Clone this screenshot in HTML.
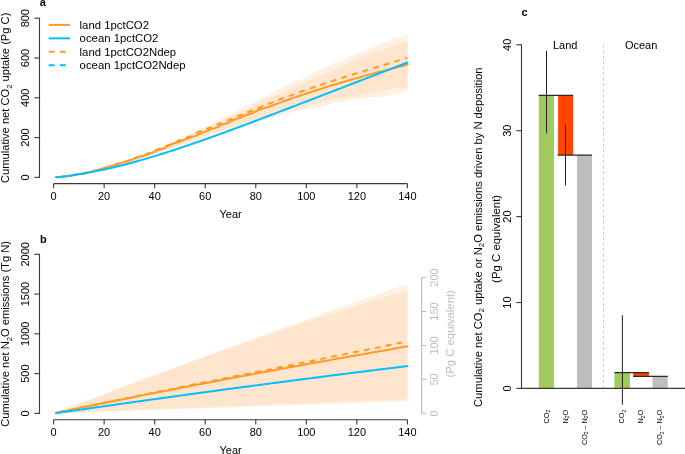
<!DOCTYPE html>
<html><head><meta charset='utf-8'><style>html,body{margin:0;padding:0;background:#fff;}svg{display:block;}</style></head>
<body><svg width='685' height='454' viewBox='0 0 685 454' font-family='"Liberation Sans", sans-serif' style='will-change:transform'>
<rect width='685' height='454' fill='#fff'/>
<polygon points='56.13,177.27 58.65,177.06 61.18,176.85 63.71,176.61 66.24,176.27 68.76,175.82 71.29,175.4 73.82,175.05 76.34,174.71 78.87,174.16 81.4,173.59 83.93,173.26 86.45,172.78 88.98,172.14 91.51,171.63 94.03,171.1 96.56,170.98 99.09,170.35 101.62,170.01 104.14,168.98 106.67,168.29 109.2,167.06 111.72,166.2 114.25,165.13 116.78,165.11 119.31,164.48 121.83,163.59 124.36,161.98 126.89,161.38 129.41,160.6 131.94,159.98 134.47,158.85 137,157.46 139.52,156.44 142.05,155.24 144.58,154.29 147.1,153.21 149.63,152.21 152.16,151.38 154.69,150.14 157.21,149.39 159.74,148.32 162.27,146.86 164.79,145.84 167.32,144.51 169.85,143.73 172.38,142.33 174.9,140.86 177.43,139.52 179.96,138.51 182.48,137.88 185.01,136.75 187.54,135.27 190.07,133.89 192.59,132.87 195.12,131.41 197.65,129.97 200.17,128.91 202.7,127.81 205.23,127.1 207.76,125.63 210.28,124.77 212.81,123.54 215.34,122.37 217.86,120.52 220.39,118.77 222.92,117.81 225.45,117.01 227.97,115.87 230.5,114.78 233.03,113.41 235.55,112.33 238.08,110.13 240.61,108.52 243.14,107.3 245.66,106.47 248.19,105.44 250.72,103.63 253.24,102.36 255.77,101.09 258.3,100.13 260.83,98.76 263.35,97.45 265.88,96.58 268.41,95.27 270.93,94.06 273.46,92.15 275.99,90.69 278.52,89.3 281.04,88.18 283.57,87.19 286.1,85.63 288.62,84.57 291.15,83.06 293.68,82.48 296.21,81.14 298.73,80.55 301.26,79.53 303.79,78.49 306.31,77.05 308.84,75.22 311.37,73.29 313.9,72.08 316.42,71.11 318.95,70.5 321.48,68.95 324,67.65 326.53,66.6 329.06,65.39 331.59,64.05 334.11,63.14 336.64,62.23 339.17,61.24 341.69,60.14 344.22,58.94 346.75,58.09 349.28,56.44 351.8,55.38 354.33,54.04 356.86,53.43 359.38,52.47 361.91,52.02 364.44,51.14 366.97,49.99 369.49,49.02 372.02,47.47 374.55,47.08 377.07,45.29 379.6,44.8 382.13,43.14 384.66,42.37 387.18,41.64 389.71,40.59 392.24,39.31 394.76,38.01 397.29,37.55 399.82,37.13 402.35,36.53 404.87,35.3 407.4,34.57 407.4,92 404.87,92.5 402.35,92.38 399.82,92.89 397.29,93.52 394.76,94.22 392.24,94.81 389.71,95.19 387.18,95.94 384.66,96.51 382.13,96.85 379.6,97.08 377.07,97.23 374.55,96.99 372.02,97.01 369.49,97.18 366.97,97.67 364.44,98.57 361.91,99.16 359.38,99.31 356.86,99.28 354.33,99.03 351.8,100.11 349.28,100.16 346.75,101.48 344.22,101.85 341.69,102.36 339.17,102.28 336.64,102.04 334.11,103.13 331.59,103.73 329.06,104.89 326.53,104.79 324,105.46 321.48,105.61 318.95,106.42 316.42,107.2 313.9,107.98 311.37,108.23 308.84,108.42 306.31,108.71 303.79,109.05 301.26,109.46 298.73,110.36 296.21,111.58 293.68,112.32 291.15,112.87 288.62,113.12 286.1,113.7 283.57,114.54 281.04,115.24 278.52,116.19 275.99,117.1 273.46,117.62 270.93,117.51 268.41,118.05 265.88,119.22 263.35,120.44 260.83,120.71 258.3,121.29 255.77,122.12 253.24,122.9 250.72,123.83 248.19,124.44 245.66,125.68 243.14,126.29 240.61,126.87 238.08,127.34 235.55,128.14 233.03,128.85 230.5,129.36 227.97,130.25 225.45,131.38 222.92,132.43 220.39,133.56 217.86,134.67 215.34,135.2 212.81,135.47 210.28,136.17 207.76,137.47 205.23,138.45 202.7,138.91 200.17,139.58 197.65,140.58 195.12,142.11 192.59,142.66 190.07,143.25 187.54,143.56 185.01,144.42 182.48,145.53 179.96,146.31 177.43,147.13 174.9,147.97 172.38,148.71 169.85,149.4 167.32,149.99 164.79,150.73 162.27,151.67 159.74,152.56 157.21,153.72 154.69,154.82 152.16,155.26 149.63,155.8 147.1,156.48 144.58,157.01 142.05,157.86 139.52,158.74 137,159.9 134.47,161.21 131.94,161.99 129.41,162.61 126.89,162.55 124.36,162.93 121.83,163.94 119.31,165.45 116.78,166.47 114.25,166.84 111.72,167.21 109.2,168.1 106.67,169.12 104.14,169.45 101.62,169.84 99.09,170.6 96.56,171.19 94.03,171.9 91.51,172.27 88.98,172.83 86.45,173.19 83.93,173.64 81.4,174.18 78.87,174.61 76.34,174.88 73.82,175.13 71.29,175.41 68.76,175.81 66.24,176.21 63.71,176.55 61.18,176.85 58.65,177.1 56.13,177.32' fill='#FEF1E3' stroke='none'/>
<polygon points='56.13,177.4 58.65,177.15 61.18,176.92 63.71,176.58 66.24,176.3 68.76,175.75 71.29,175.26 73.82,174.62 76.34,174.14 78.87,173.75 81.4,173.3 83.93,172.67 86.45,172.19 88.98,171.65 91.51,171.31 94.03,170.33 96.56,169.96 99.09,169.36 101.62,168.93 104.14,168.01 106.67,167.62 109.2,166.91 111.72,166.28 114.25,165.16 116.78,164.53 119.31,163.65 121.83,163.28 124.36,161.98 126.89,161.44 129.41,160.71 131.94,160.3 134.47,158.76 137,157.37 139.52,156 142.05,155.04 144.58,154.2 147.1,154.38 149.63,154.2 152.16,152.64 154.69,151.19 157.21,150.26 159.74,149.96 162.27,148.71 164.79,147.26 167.32,145.59 169.85,144.25 172.38,143.45 174.9,142.66 177.43,142.18 179.96,140.81 182.48,139.99 185.01,138.9 187.54,137.21 190.07,135.75 192.59,134.1 195.12,132.85 197.65,131.5 200.17,130.56 202.7,130.11 205.23,129.38 207.76,127.88 210.28,126.82 212.81,124.94 215.34,124.17 217.86,122.99 220.39,122.42 222.92,120.96 225.45,119.62 227.97,117.92 230.5,117.05 233.03,115.83 235.55,114.47 238.08,113.18 240.61,111.9 243.14,110.8 245.66,109.37 248.19,108.49 250.72,108.31 253.24,106.58 255.77,105.08 258.3,102.93 260.83,102.54 263.35,100.94 265.88,99.94 268.41,98.59 270.93,98.16 273.46,97 275.99,95.95 278.52,94.57 281.04,93.93 283.57,92.74 286.1,91.45 288.62,90.16 291.15,88.82 293.68,87.5 296.21,86.06 298.73,85.09 301.26,84.28 303.79,82.77 306.31,81.87 308.84,80.63 311.37,79.87 313.9,78.25 316.42,77.05 318.95,76.12 321.48,74.46 324,73.27 326.53,72.22 329.06,71.94 331.59,70.87 334.11,69.22 336.64,68.26 339.17,67.01 341.69,66.5 344.22,65.28 346.75,64.18 349.28,62.27 351.8,61.03 354.33,60.32 356.86,59.42 359.38,58.68 361.91,57.5 364.44,56.8 366.97,55.22 369.49,54.23 372.02,53.4 374.55,52.54 377.07,51.99 379.6,50.74 382.13,50.17 384.66,49.18 387.18,48.6 389.71,47.49 392.24,46.14 394.76,45.21 397.29,44.14 399.82,43.2 402.35,42.31 404.87,41.95 407.4,41.13 407.4,86.41 404.87,87.53 402.35,88.34 399.82,88.24 397.29,88.36 394.76,88.38 392.24,88.73 389.71,89.19 387.18,89.85 384.66,90.54 382.13,91.06 379.6,91.29 377.07,91.73 374.55,92.38 372.02,92.65 369.49,93.57 366.97,94.26 364.44,94.75 361.91,95.09 359.38,95.04 356.86,95.61 354.33,95.76 351.8,96.75 349.28,97.01 346.75,98.15 344.22,97.66 341.69,99.02 339.17,98.58 336.64,98.97 334.11,99.03 331.59,99.72 329.06,100.93 326.53,101.4 324,101.86 321.48,101.71 318.95,102.45 316.42,102.88 313.9,104 311.37,104.36 308.84,105.24 306.31,105.15 303.79,106.07 301.26,106.02 298.73,107.58 296.21,107.95 293.68,108.9 291.15,108.95 288.62,109.17 286.1,109.71 283.57,110.68 281.04,111.68 278.52,112.62 275.99,113.33 273.46,114.41 270.93,114.69 268.41,115.44 265.88,115.75 263.35,116.87 260.83,117.8 258.3,118.38 255.77,119.09 253.24,119.58 250.72,121.02 248.19,121.87 245.66,122.56 243.14,123.22 240.61,124.36 238.08,125.66 235.55,126.05 233.03,126.66 230.5,126.86 227.97,127.82 225.45,128.73 222.92,129.99 220.39,130.99 217.86,131.72 215.34,131.65 212.81,132.79 210.28,133.6 207.76,135.05 205.23,135.69 202.7,136.7 200.17,137.96 197.65,138.39 195.12,139.36 192.59,140.2 190.07,141.63 187.54,142.51 185.01,142.99 182.48,143.7 179.96,144.83 177.43,146.24 174.9,146.52 172.38,147.32 169.85,147.94 167.32,149.63 164.79,150.52 162.27,151.4 159.74,151.71 157.21,152.36 154.69,153.28 152.16,154.42 149.63,155.15 147.1,155.9 144.58,156.62 142.05,158.02 139.52,159.02 137,160.52 134.47,161.22 131.94,161.71 129.41,162.31 126.89,162.59 124.36,163.77 121.83,163.97 119.31,165.04 116.78,165.55 114.25,165.86 111.72,166.89 109.2,167.52 106.67,168.85 104.14,168.79 101.62,169.59 99.09,169.86 96.56,170.91 94.03,171.35 91.51,172.02 88.98,172.06 86.45,172.66 83.93,173.11 81.4,174.19 78.87,174.72 76.34,175.3 73.82,175.45 71.29,175.7 68.76,176.04 66.24,176.3 63.71,176.57 61.18,176.87 58.65,177.1 56.13,177.29' fill='#FDE6CD' stroke='none'/>
<polyline points='56.13,177.37 58.65,177.18 61.18,176.87 63.71,176.6 66.24,176.35 68.76,176 71.29,175.68 73.82,174.91 76.34,174.41 78.87,173.88 81.4,173.71 83.93,173.3 86.45,172.85 88.98,172.32 91.51,171.6 94.03,170.88 96.56,170.04 99.09,169.5 101.62,168.78 104.14,167.97 106.67,167.11 109.2,166.48 111.72,166.08 114.25,165.32 116.78,164 119.31,163.23 121.83,162.6 124.36,161.99 126.89,161.29 129.41,160.46 131.94,159.63 134.47,158.42 137,157.46 139.52,156.61 142.05,156.47 144.58,155.35 147.1,154.79 149.63,153.6 152.16,152.83 154.69,151.5 157.21,150.27 159.74,149.61 162.27,148.8 164.79,147.73 167.32,146.19 169.85,145.04 172.38,143.99 174.9,143.07 177.43,142.28 179.96,141.53 182.48,140.64 185.01,139.46 187.54,138.28 190.07,137.58 192.59,136.64 195.12,136.14 197.65,134.79 200.17,133.71 202.7,132.5 205.23,131.63 207.76,130.94 210.28,129.38 212.81,128.84 215.34,127.81 217.86,126.81 220.39,125.08 222.92,124.35 225.45,123.62 227.97,122.8 230.5,121.45 233.03,119.99 235.55,119.33 238.08,118.14 240.61,117.68 243.14,116.19 245.66,115.29 248.19,114.2 250.72,113.75 253.24,112.5 255.77,111.37 258.3,110.07 260.83,109.22 263.35,108.35 265.88,107.59 268.41,106.89 270.93,106.07 273.46,104.94 275.99,104.08 278.52,103.15 281.04,102.37 283.57,101.34 286.1,100.38 288.62,99.55 291.15,98.75 293.68,97.89 296.21,96.93 298.73,95.99 301.26,95.13 303.79,94.34 306.31,93.52 308.84,92.7 311.37,91.84 313.9,91.06 316.42,90.23 318.95,89.46 321.48,88.62 324,87.83 326.53,86.95 329.06,86.14 331.59,85.32 334.11,84.71 336.64,84.02 339.17,83.33 341.69,82.5 344.22,81.82 346.75,81.03 349.28,80.28 351.8,79.52 354.33,78.87 356.86,78.22 359.38,77.46 361.91,76.7 364.44,75.91 366.97,75.22 369.49,74.52 372.02,73.9 374.55,73.15 377.07,72.47 379.6,71.75 382.13,71.17 384.66,70.53 387.18,69.94 389.71,69.18 392.24,68.49 394.76,67.81 397.29,67.22 399.82,66.57 402.35,65.92 404.87,65.28 407.4,64.62' fill='none' stroke='#FF9A26' stroke-width='2' stroke-linejoin='round' stroke-linecap='round'/>
<polyline points='56.13,177.41 58.65,177.18 61.18,176.88 63.71,176.56 66.24,176.25 68.76,175.95 71.29,175.54 73.82,175.03 76.34,174.52 78.87,174.13 81.4,173.78 83.93,173.17 86.45,172.52 88.98,171.99 91.51,171.53 94.03,171.03 96.56,170.29 99.09,169.67 101.62,168.94 104.14,168.11 106.67,167.34 109.2,166.57 111.72,165.82 114.25,164.92 116.78,164.25 119.31,163.52 121.83,162.93 124.36,161.88 126.89,161.15 129.41,160.14 131.94,159.22 134.47,158.18 137,157.41 139.52,156.53 142.05,155.69 144.58,154.78 147.1,153.73 149.63,152.77 152.16,151.44 154.69,150.39 157.21,149.51 159.74,148.63 162.27,147.86 164.79,146.57 167.32,145.58 169.85,144.67 172.38,143.67 174.9,142.67 177.43,141.23 179.96,140.31 182.48,139.13 185.01,138.35 187.54,137.18 190.07,136.34 192.59,134.93 195.12,133.75 197.65,132.24 200.17,131.29 202.7,130.19 205.23,129.34 207.76,128.44 210.28,127.51 212.81,126.37 215.34,125.29 217.86,124.19 220.39,123.32 222.92,122.13 225.45,121.15 227.97,120.12 230.5,119.12 233.03,118.01 235.55,117.06 238.08,115.94 240.61,115.07 243.14,114.08 245.66,113.28 248.19,112.01 250.72,110.9 253.24,109.85 255.77,109.03 258.3,107.95 260.83,106.96 263.35,105.97 265.88,104.96 268.41,103.98 270.93,102.93 273.46,102 275.99,100.98 278.52,100.01 281.04,98.99 283.57,98.05 286.1,97.16 288.62,96.32 291.15,95.37 293.68,94.41 296.21,93.45 298.73,92.54 301.26,91.64 303.79,90.76 306.31,89.87 308.84,88.97 311.37,88.09 313.9,87.2 316.42,86.3 318.95,85.42 321.48,84.6 324,83.75 326.53,82.91 329.06,82.06 331.59,81.24 334.11,80.42 336.64,79.59 339.17,78.8 341.69,78.01 344.22,77.19 346.75,76.35 349.28,75.54 351.8,74.74 354.33,73.93 356.86,73.16 359.38,72.38 361.91,71.64 364.44,70.86 366.97,70.12 369.49,69.34 372.02,68.54 374.55,67.76 377.07,67 379.6,66.23 382.13,65.45 384.66,64.68 387.18,63.92 389.71,63.16 392.24,62.38 394.76,61.62 397.29,60.87 399.82,60.13 402.35,59.4 404.87,58.65 407.4,57.88' fill='none' stroke='#FF9A26' stroke-width='2' stroke-linejoin='round' stroke-dasharray='5.9 5.2' stroke-dashoffset='-3.3'/>
<polyline points='56.13,177.27 58.65,177.02 61.18,176.74 63.71,176.45 66.24,176.14 68.76,175.81 71.29,175.46 73.82,175.1 76.34,174.72 78.87,174.32 81.4,173.91 83.93,173.48 86.45,173.03 88.98,172.57 91.51,172.09 94.03,171.6 96.56,171.1 99.09,170.58 101.62,170.05 104.14,169.5 106.67,168.94 109.2,168.37 111.72,167.78 114.25,167.18 116.78,166.57 119.31,165.95 121.83,165.31 124.36,164.67 126.89,164.01 129.41,163.34 131.94,162.66 134.47,161.97 137,161.27 139.52,160.56 142.05,159.84 144.58,159.12 147.1,158.38 149.63,157.63 152.16,156.88 154.69,156.11 157.21,155.34 159.74,154.56 162.27,153.77 164.79,152.97 167.32,152.17 169.85,151.36 172.38,150.54 174.9,149.72 177.43,148.89 179.96,148.05 182.48,147.2 185.01,146.35 187.54,145.5 190.07,144.64 192.59,143.77 195.12,142.9 197.65,142.02 200.17,141.14 202.7,140.25 205.23,139.36 207.76,138.46 210.28,137.56 212.81,136.66 215.34,135.75 217.86,134.84 220.39,133.92 222.92,133 225.45,132.08 227.97,131.15 230.5,130.22 233.03,129.29 235.55,128.35 238.08,127.42 240.61,126.47 243.14,125.53 245.66,124.59 248.19,123.64 250.72,122.69 253.24,121.74 255.77,120.78 258.3,119.83 260.83,118.87 263.35,117.91 265.88,116.95 268.41,115.99 270.93,115.03 273.46,114.07 275.99,113.1 278.52,112.14 281.04,111.17 283.57,110.2 286.1,109.23 288.62,108.26 291.15,107.29 293.68,106.32 296.21,105.35 298.73,104.38 301.26,103.41 303.79,102.44 306.31,101.47 308.84,100.49 311.37,99.52 313.9,98.55 316.42,97.57 318.95,96.6 321.48,95.63 324,94.65 326.53,93.68 329.06,92.71 331.59,91.73 334.11,90.76 336.64,89.79 339.17,88.81 341.69,87.84 344.22,86.87 346.75,85.9 349.28,84.92 351.8,83.95 354.33,82.98 356.86,82.01 359.38,81.03 361.91,80.06 364.44,79.09 366.97,78.12 369.49,77.15 372.02,76.17 374.55,75.2 377.07,74.23 379.6,73.26 382.13,72.28 384.66,71.31 387.18,70.34 389.71,69.36 392.24,68.39 394.76,67.42 397.29,66.44 399.82,65.47 402.35,64.49 404.87,63.52 407.4,62.54' fill='none' stroke='#00BFFF' stroke-width='2' stroke-linejoin='round' stroke-linecap='round'/>
<polygon points='56.13,412.43 58.65,411.46 61.18,410.49 63.71,409.52 66.24,408.56 68.76,407.59 71.29,406.62 73.82,405.66 76.34,404.69 78.87,403.73 81.4,402.76 83.93,401.8 86.45,400.84 88.98,399.87 91.51,398.91 94.03,397.95 96.56,396.99 99.09,396.03 101.62,395.07 104.14,394.11 106.67,393.16 109.2,392.2 111.72,391.24 114.25,390.29 116.78,389.33 119.31,388.38 121.83,387.42 124.36,386.47 126.89,385.52 129.41,384.56 131.94,383.61 134.47,382.66 137,381.71 139.52,380.76 142.05,379.81 144.58,378.86 147.1,377.92 149.63,376.97 152.16,376.02 154.69,375.08 157.21,374.13 159.74,373.19 162.27,372.24 164.79,371.3 167.32,370.36 169.85,369.41 172.38,368.47 174.9,367.53 177.43,366.59 179.96,365.65 182.48,364.71 185.01,363.77 187.54,362.83 190.07,361.9 192.59,360.96 195.12,360.02 197.65,359.09 200.17,358.15 202.7,357.22 205.23,356.29 207.76,355.35 210.28,354.42 212.81,353.49 215.34,352.56 217.86,351.63 220.39,350.7 222.92,349.77 225.45,348.84 227.97,347.91 230.5,346.98 233.03,346.06 235.55,345.13 238.08,344.21 240.61,343.28 243.14,342.36 245.66,341.43 248.19,340.51 250.72,339.59 253.24,338.67 255.77,337.74 258.3,336.82 260.83,335.9 263.35,334.98 265.88,334.07 268.41,333.15 270.93,332.23 273.46,331.31 275.99,330.4 278.52,329.48 281.04,328.57 283.57,327.65 286.1,326.74 288.62,325.83 291.15,324.91 293.68,324 296.21,323.09 298.73,322.18 301.26,321.27 303.79,320.36 306.31,319.45 308.84,318.54 311.37,317.64 313.9,316.73 316.42,315.82 318.95,314.92 321.48,314.01 324,313.11 326.53,312.2 329.06,311.3 331.59,310.4 334.11,309.5 336.64,308.59 339.17,307.69 341.69,306.79 344.22,305.89 346.75,305 349.28,304.1 351.8,303.2 354.33,302.3 356.86,301.41 359.38,300.51 361.91,299.62 364.44,298.72 366.97,297.83 369.49,296.93 372.02,296.04 374.55,295.15 377.07,294.26 379.6,293.37 382.13,292.48 384.66,291.59 387.18,290.7 389.71,289.81 392.24,288.92 394.76,288.04 397.29,287.15 399.82,286.26 402.35,285.38 404.87,284.49 407.4,283.61 407.4,401.26 404.87,401.35 402.35,401.43 399.82,401.52 397.29,401.61 394.76,401.69 392.24,401.78 389.71,401.87 387.18,401.95 384.66,402.04 382.13,402.13 379.6,402.21 377.07,402.3 374.55,402.39 372.02,402.47 369.49,402.56 366.97,402.65 364.44,402.73 361.91,402.82 359.38,402.91 356.86,402.99 354.33,403.08 351.8,403.17 349.28,403.25 346.75,403.34 344.22,403.43 341.69,403.52 339.17,403.6 336.64,403.69 334.11,403.78 331.59,403.86 329.06,403.95 326.53,404.04 324,404.12 321.48,404.21 318.95,404.3 316.42,404.38 313.9,404.47 311.37,404.56 308.84,404.64 306.31,404.73 303.79,404.82 301.26,404.9 298.73,404.99 296.21,405.08 293.68,405.16 291.15,405.25 288.62,405.34 286.1,405.42 283.57,405.51 281.04,405.6 278.52,405.68 275.99,405.77 273.46,405.86 270.93,405.94 268.41,406.03 265.88,406.12 263.35,406.2 260.83,406.29 258.3,406.38 255.77,406.46 253.24,406.55 250.72,406.64 248.19,406.72 245.66,406.81 243.14,406.9 240.61,406.98 238.08,407.07 235.55,407.16 233.03,407.24 230.5,407.33 227.97,407.42 225.45,407.5 222.92,407.59 220.39,407.68 217.86,407.76 215.34,407.85 212.81,407.94 210.28,408.02 207.76,408.11 205.23,408.2 202.7,408.28 200.17,408.37 197.65,408.46 195.12,408.54 192.59,408.63 190.07,408.72 187.54,408.8 185.01,408.89 182.48,408.98 179.96,409.06 177.43,409.15 174.9,409.24 172.38,409.32 169.85,409.41 167.32,409.5 164.79,409.58 162.27,409.67 159.74,409.76 157.21,409.84 154.69,409.93 152.16,410.02 149.63,410.11 147.1,410.19 144.58,410.28 142.05,410.37 139.52,410.45 137,410.54 134.47,410.63 131.94,410.71 129.41,410.8 126.89,410.89 124.36,410.97 121.83,411.06 119.31,411.15 116.78,411.23 114.25,411.32 111.72,411.41 109.2,411.49 106.67,411.58 104.14,411.67 101.62,411.75 99.09,411.84 96.56,411.93 94.03,412.01 91.51,412.1 88.98,412.19 86.45,412.27 83.93,412.36 81.4,412.45 78.87,412.53 76.34,412.62 73.82,412.71 71.29,412.79 68.76,412.88 66.24,412.97 63.71,413.05 61.18,413.14 58.65,413.23 56.13,413.31' fill='#FEF1E3' stroke='none'/>
<polygon points='56.13,412.43 58.65,411.46 61.18,410.49 63.71,409.52 66.24,408.56 68.76,407.59 71.29,406.62 73.82,405.66 76.34,404.69 78.87,403.73 81.4,402.77 83.93,401.8 86.45,400.84 88.98,399.88 91.51,398.92 94.03,397.96 96.56,397 99.09,396.05 101.62,395.09 104.14,394.13 106.67,393.18 109.2,392.23 111.72,391.27 114.25,390.32 116.78,389.37 119.31,388.42 121.83,387.47 124.36,386.53 126.89,385.58 129.41,384.63 131.94,383.69 134.47,382.75 137,381.8 139.52,380.86 142.05,379.92 144.58,378.98 147.1,378.05 149.63,377.11 152.16,376.17 154.69,375.24 157.21,374.31 159.74,373.38 162.27,372.45 164.79,371.52 167.32,370.59 169.85,369.66 172.38,368.74 174.9,367.82 177.43,366.89 179.96,365.97 182.48,365.05 185.01,364.13 187.54,363.22 190.07,362.3 192.59,361.39 195.12,360.48 197.65,359.57 200.17,358.66 202.7,357.75 205.23,356.84 207.76,355.94 210.28,355.04 212.81,354.13 215.34,353.23 217.86,352.34 220.39,351.44 222.92,350.54 225.45,349.65 227.97,348.76 230.5,347.87 233.03,346.98 235.55,346.09 238.08,345.21 240.61,344.33 243.14,343.44 245.66,342.56 248.19,341.69 250.72,340.81 253.24,339.94 255.77,339.06 258.3,338.19 260.83,337.33 263.35,336.46 265.88,335.59 268.41,334.73 270.93,333.87 273.46,333.01 275.99,332.15 278.52,331.3 281.04,330.45 283.57,329.59 286.1,328.75 288.62,327.9 291.15,327.05 293.68,326.21 296.21,325.37 298.73,324.53 301.26,323.7 303.79,322.86 306.31,322.03 308.84,321.2 311.37,320.37 313.9,319.55 316.42,318.72 318.95,317.9 321.48,317.08 324,316.26 326.53,315.45 329.06,314.64 331.59,313.83 334.11,313.02 336.64,312.22 339.17,311.41 341.69,310.61 344.22,309.81 346.75,309.02 349.28,308.23 351.8,307.43 354.33,306.65 356.86,305.86 359.38,305.08 361.91,304.3 364.44,303.52 366.97,302.74 369.49,301.97 372.02,301.2 374.55,300.43 377.07,299.66 379.6,298.9 382.13,298.14 384.66,297.38 387.18,296.63 389.71,295.87 392.24,295.12 394.76,294.38 397.29,293.63 399.82,292.89 402.35,292.15 404.87,291.42 407.4,290.68 407.4,399.03 404.87,399.14 402.35,399.24 399.82,399.34 397.29,399.44 394.76,399.55 392.24,399.65 389.71,399.75 387.18,399.85 384.66,399.96 382.13,400.06 379.6,400.16 377.07,400.26 374.55,400.37 372.02,400.47 369.49,400.57 366.97,400.68 364.44,400.78 361.91,400.88 359.38,400.98 356.86,401.09 354.33,401.19 351.8,401.29 349.28,401.39 346.75,401.5 344.22,401.6 341.69,401.7 339.17,401.8 336.64,401.91 334.11,402.01 331.59,402.11 329.06,402.21 326.53,402.32 324,402.42 321.48,402.52 318.95,402.62 316.42,402.73 313.9,402.83 311.37,402.93 308.84,403.04 306.31,403.14 303.79,403.24 301.26,403.34 298.73,403.45 296.21,403.55 293.68,403.65 291.15,403.75 288.62,403.86 286.1,403.96 283.57,404.06 281.04,404.16 278.52,404.27 275.99,404.37 273.46,404.47 270.93,404.57 268.41,404.68 265.88,404.78 263.35,404.88 260.83,404.99 258.3,405.09 255.77,405.19 253.24,405.29 250.72,405.4 248.19,405.5 245.66,405.6 243.14,405.7 240.61,405.81 238.08,405.91 235.55,406.01 233.03,406.11 230.5,406.22 227.97,406.32 225.45,406.42 222.92,406.52 220.39,406.63 217.86,406.73 215.34,406.83 212.81,406.93 210.28,407.04 207.76,407.14 205.23,407.24 202.7,407.35 200.17,407.45 197.65,407.55 195.12,407.65 192.59,407.76 190.07,407.86 187.54,407.96 185.01,408.06 182.48,408.17 179.96,408.27 177.43,408.37 174.9,408.47 172.38,408.58 169.85,408.68 167.32,408.78 164.79,408.88 162.27,408.99 159.74,409.09 157.21,409.19 154.69,409.3 152.16,409.4 149.63,409.5 147.1,409.6 144.58,409.71 142.05,409.81 139.52,409.91 137,410.01 134.47,410.12 131.94,410.22 129.41,410.32 126.89,410.42 124.36,410.53 121.83,410.63 119.31,410.73 116.78,410.83 114.25,410.94 111.72,411.04 109.2,411.14 106.67,411.24 104.14,411.35 101.62,411.45 99.09,411.55 96.56,411.66 94.03,411.76 91.51,411.86 88.98,411.96 86.45,412.07 83.93,412.17 81.4,412.27 78.87,412.37 76.34,412.48 73.82,412.58 71.29,412.68 68.76,412.78 66.24,412.89 63.71,412.99 61.18,413.09 58.65,413.19 56.13,413.3' fill='#FDE6CD' stroke='none'/>
<polyline points='56.13,412.74 58.65,412.22 61.18,411.71 63.71,411.2 66.24,410.67 68.76,410.16 71.29,409.63 73.82,409.14 76.34,408.6 78.87,408.1 81.4,407.54 83.93,407.06 86.45,406.55 88.98,406.04 91.51,405.51 94.03,404.99 96.56,404.49 99.09,403.99 101.62,403.5 104.14,403.03 106.67,402.53 109.2,402.02 111.72,401.53 114.25,401.07 116.78,400.56 119.31,400.03 121.83,399.55 124.36,399.03 126.89,398.45 129.41,397.9 131.94,397.43 134.47,396.94 137,396.41 139.52,395.89 142.05,395.39 144.58,394.88 147.1,394.37 149.63,393.93 152.16,393.45 154.69,392.94 157.21,392.38 159.74,391.94 162.27,391.48 164.79,391.05 167.32,390.58 169.85,390.06 172.38,389.52 174.9,388.99 177.43,388.45 179.96,387.95 182.48,387.41 185.01,386.96 187.54,386.47 190.07,386.05 192.59,385.55 195.12,385.08 197.65,384.61 200.17,384.13 202.7,383.68 205.23,383.1 207.76,382.65 210.28,382.16 212.81,381.69 215.34,381.23 217.86,380.72 220.39,380.26 222.92,379.73 225.45,379.29 227.97,378.77 230.5,378.29 233.03,377.8 235.55,377.34 238.08,376.84 240.61,376.29 243.14,375.9 245.66,375.44 248.19,375.01 250.72,374.49 253.24,374.08 255.77,373.58 258.3,373.15 260.83,372.63 263.35,372.15 265.88,371.7 268.41,371.26 270.93,370.89 273.46,370.35 275.99,369.82 278.52,369.23 281.04,368.84 283.57,368.45 286.1,368.04 288.62,367.45 291.15,366.95 293.68,366.54 296.21,366.13 298.73,365.68 301.26,365.2 303.79,364.78 306.31,364.31 308.84,363.83 311.37,363.35 313.9,362.91 316.42,362.51 318.95,362.07 321.48,361.56 324,361.07 326.53,360.65 329.06,360.19 331.59,359.71 334.11,359.13 336.64,358.73 339.17,358.31 341.69,357.99 344.22,357.49 346.75,356.93 349.28,356.46 351.8,356.09 354.33,355.71 356.86,355.26 359.38,354.8 361.91,354.39 364.44,353.91 366.97,353.42 369.49,352.96 372.02,352.49 374.55,352.1 377.07,351.65 379.6,351.32 382.13,350.91 384.66,350.46 387.18,349.96 389.71,349.45 392.24,349.02 394.76,348.51 397.29,348.07 399.82,347.62 402.35,347.23 404.87,346.85 407.4,346.48' fill='none' stroke='#FF9A26' stroke-width='2' stroke-linejoin='round' stroke-linecap='round'/>
<polyline points='56.13,412.87 58.65,412.33 61.18,411.79 63.71,411.26 66.24,410.73 68.76,410.22 71.29,409.68 73.82,409.13 76.34,408.58 78.87,408.04 81.4,407.55 83.93,407.02 86.45,406.52 88.98,405.92 91.51,405.37 94.03,404.8 96.56,404.31 99.09,403.79 101.62,403.27 104.14,402.75 106.67,402.26 109.2,401.76 111.72,401.25 114.25,400.73 116.78,400.22 119.31,399.7 121.83,399.13 124.36,398.66 126.89,398.08 129.41,397.61 131.94,397.06 134.47,396.62 137,396.08 139.52,395.56 142.05,394.99 144.58,394.48 147.1,393.96 149.63,393.38 152.16,392.84 154.69,392.35 157.21,391.86 159.74,391.37 162.27,390.82 164.79,390.32 167.32,389.81 169.85,389.39 172.38,388.92 174.9,388.37 177.43,387.81 179.96,387.27 182.48,386.74 185.01,386.24 187.54,385.7 190.07,385.17 192.59,384.6 195.12,384.1 197.65,383.61 200.17,383.06 202.7,382.59 205.23,382.12 207.76,381.67 210.28,381.21 212.81,380.75 215.34,380.3 217.86,379.75 220.39,379.17 222.92,378.69 225.45,378.26 227.97,377.79 230.5,377.23 233.03,376.66 235.55,376.12 238.08,375.56 240.61,375.05 243.14,374.55 245.66,374.12 248.19,373.67 250.72,373.18 253.24,372.61 255.77,372.04 258.3,371.52 260.83,371.01 263.35,370.5 265.88,370.08 268.41,369.63 270.93,369.14 273.46,368.55 275.99,368.07 278.52,367.54 281.04,367.07 283.57,366.52 286.1,366.05 288.62,365.5 291.15,365.03 293.68,364.5 296.21,364.02 298.73,363.49 301.26,363.03 303.79,362.6 306.31,362.09 308.84,361.57 311.37,361 313.9,360.49 316.42,359.99 318.95,359.45 321.48,358.9 324,358.38 326.53,357.88 329.06,357.39 331.59,356.8 334.11,356.3 336.64,355.79 339.17,355.41 341.69,354.83 344.22,354.32 346.75,353.7 349.28,353.24 351.8,352.79 354.33,352.29 356.86,351.74 359.38,351.22 361.91,350.79 364.44,350.29 366.97,349.75 369.49,349.08 372.02,348.6 374.55,348.1 377.07,347.68 379.6,347.2 382.13,346.69 384.66,346.11 387.18,345.53 389.71,345 392.24,344.58 394.76,344.04 397.29,343.47 399.82,342.89 402.35,342.4 404.87,341.89 407.4,341.36' fill='none' stroke='#FF9A26' stroke-width='2' stroke-linejoin='round' stroke-dasharray='5.9 5.2' stroke-dashoffset='-3.3'/>
<polyline points='56.13,413.2 58.65,412.83 61.18,412.46 63.71,412.09 66.24,411.72 68.76,411.36 71.29,410.99 73.82,410.62 76.34,410.26 78.87,409.89 81.4,409.53 83.93,409.16 86.45,408.8 88.98,408.43 91.51,408.07 94.03,407.71 96.56,407.34 99.09,406.98 101.62,406.62 104.14,406.26 106.67,405.9 109.2,405.54 111.72,405.18 114.25,404.82 116.78,404.46 119.31,404.1 121.83,403.74 124.36,403.38 126.89,403.03 129.41,402.67 131.94,402.31 134.47,401.96 137,401.6 139.52,401.25 142.05,400.89 144.58,400.54 147.1,400.18 149.63,399.83 152.16,399.48 154.69,399.12 157.21,398.77 159.74,398.42 162.27,398.07 164.79,397.72 167.32,397.37 169.85,397.02 172.38,396.67 174.9,396.32 177.43,395.97 179.96,395.62 182.48,395.27 185.01,394.93 187.54,394.58 190.07,394.23 192.59,393.89 195.12,393.54 197.65,393.2 200.17,392.85 202.7,392.51 205.23,392.17 207.76,391.82 210.28,391.48 212.81,391.14 215.34,390.79 217.86,390.45 220.39,390.11 222.92,389.77 225.45,389.43 227.97,389.09 230.5,388.75 233.03,388.41 235.55,388.07 238.08,387.74 240.61,387.4 243.14,387.06 245.66,386.72 248.19,386.39 250.72,386.05 253.24,385.72 255.77,385.38 258.3,385.05 260.83,384.71 263.35,384.38 265.88,384.05 268.41,383.71 270.93,383.38 273.46,383.05 275.99,382.72 278.52,382.39 281.04,382.06 283.57,381.73 286.1,381.4 288.62,381.07 291.15,380.74 293.68,380.41 296.21,380.08 298.73,379.76 301.26,379.43 303.79,379.1 306.31,378.78 308.84,378.45 311.37,378.12 313.9,377.8 316.42,377.47 318.95,377.15 321.48,376.83 324,376.5 326.53,376.18 329.06,375.86 331.59,375.54 334.11,375.22 336.64,374.9 339.17,374.57 341.69,374.25 344.22,373.94 346.75,373.62 349.28,373.3 351.8,372.98 354.33,372.66 356.86,372.34 359.38,372.03 361.91,371.71 364.44,371.39 366.97,371.08 369.49,370.76 372.02,370.45 374.55,370.13 377.07,369.82 379.6,369.51 382.13,369.19 384.66,368.88 387.18,368.57 389.71,368.26 392.24,367.95 394.76,367.64 397.29,367.33 399.82,367.02 402.35,366.71 404.87,366.4 407.4,366.09' fill='none' stroke='#00BFFF' stroke-width='2' stroke-linejoin='round' stroke-linecap='round'/>
<path d='M39.5,177.35V18.2' stroke='#383838' stroke-width='1.1' fill='none'/><path d='M34.9,177.35H39.5' stroke='#383838' stroke-width='1.1' stroke-linecap='square'/><text transform='translate(29.3,177.35) rotate(-90)' text-anchor='middle' font-size='11' fill='#000'>0</text><path d='M34.9,137.56H39.5' stroke='#383838' stroke-width='1.1' stroke-linecap='square'/><text transform='translate(29.3,137.56) rotate(-90)' text-anchor='middle' font-size='11' fill='#000'>200</text><path d='M34.9,97.77H39.5' stroke='#383838' stroke-width='1.1' stroke-linecap='square'/><text transform='translate(29.3,97.77) rotate(-90)' text-anchor='middle' font-size='11' fill='#000'>400</text><path d='M34.9,57.99H39.5' stroke='#383838' stroke-width='1.1' stroke-linecap='square'/><text transform='translate(29.3,57.99) rotate(-90)' text-anchor='middle' font-size='11' fill='#000'>600</text><path d='M34.9,18.2H39.5' stroke='#383838' stroke-width='1.1' stroke-linecap='square'/><text transform='translate(29.3,18.2) rotate(-90)' text-anchor='middle' font-size='11' fill='#000'>800</text>
<path d='M53.6,183.65H407.4' stroke='#383838' stroke-width='1.1' fill='none'/><path d='M53.6,183.65V188.35' stroke='#383838' stroke-width='1.1'/><text x='53.6' y='199.6' text-anchor='middle' font-size='11'>0</text><path d='M104.14,183.65V188.35' stroke='#383838' stroke-width='1.1'/><text x='104.14' y='199.6' text-anchor='middle' font-size='11'>20</text><path d='M154.69,183.65V188.35' stroke='#383838' stroke-width='1.1'/><text x='154.69' y='199.6' text-anchor='middle' font-size='11'>40</text><path d='M205.23,183.65V188.35' stroke='#383838' stroke-width='1.1'/><text x='205.23' y='199.6' text-anchor='middle' font-size='11'>60</text><path d='M255.77,183.65V188.35' stroke='#383838' stroke-width='1.1'/><text x='255.77' y='199.6' text-anchor='middle' font-size='11'>80</text><path d='M306.31,183.65V188.35' stroke='#383838' stroke-width='1.1'/><text x='306.31' y='199.6' text-anchor='middle' font-size='11'>100</text><path d='M356.86,183.65V188.35' stroke='#383838' stroke-width='1.1'/><text x='356.86' y='199.6' text-anchor='middle' font-size='11'>120</text><path d='M407.4,183.65V188.35' stroke='#383838' stroke-width='1.1'/><text x='407.4' y='199.6' text-anchor='middle' font-size='11'>140</text>
<text x='230.6' y='217.6' text-anchor='middle' font-size='11'>Year</text>
<text transform='translate(9.4,97.8) rotate(-90)' text-anchor='middle' font-size='11.15'>Cumulative net CO<tspan dy='2.23' font-size='7.8'>2</tspan><tspan dy='-2.23'> uptake (Pg C)</tspan></text>
<text x='39.8' y='5.8' font-size='11' font-weight='bold'>a</text>
<path d='M48.7,24.9H70.1' stroke='#FF9A26' stroke-width='2'/>
<text x='79.6' y='28.8' font-size='11.35'>land 1pctCO2</text>
<path d='M48.7,38.35H70.1' stroke='#00BFFF' stroke-width='2'/>
<text x='79.6' y='42.25' font-size='11.35'>ocean 1pctCO2</text>
<path d='M48.7,51.8H70.1' stroke='#FF9A26' stroke-width='2' stroke-dasharray='5.9 5.2'/>
<text x='79.6' y='55.7' font-size='11.35'>land 1pctCO2Ndep</text>
<path d='M48.7,65.25H70.1' stroke='#00BFFF' stroke-width='2' stroke-dasharray='5.9 5.2'/>
<text x='79.6' y='69.15' font-size='11.35'>ocean 1pctCO2Ndep</text>
<path d='M39.5,413.4V254.3' stroke='#383838' stroke-width='1.1' fill='none'/><path d='M34.9,413.4H39.5' stroke='#383838' stroke-width='1.1' stroke-linecap='square'/><text transform='translate(29.3,413.4) rotate(-90)' text-anchor='middle' font-size='11' fill='#000'>0</text><path d='M34.9,373.62H39.5' stroke='#383838' stroke-width='1.1' stroke-linecap='square'/><text transform='translate(29.3,373.62) rotate(-90)' text-anchor='middle' font-size='11' fill='#000'>500</text><path d='M34.9,333.85H39.5' stroke='#383838' stroke-width='1.1' stroke-linecap='square'/><text transform='translate(29.3,333.85) rotate(-90)' text-anchor='middle' font-size='11' fill='#000'>1000</text><path d='M34.9,294.07H39.5' stroke='#383838' stroke-width='1.1' stroke-linecap='square'/><text transform='translate(29.3,294.07) rotate(-90)' text-anchor='middle' font-size='11' fill='#000'>1500</text><path d='M34.9,254.3H39.5' stroke='#383838' stroke-width='1.1' stroke-linecap='square'/><text transform='translate(29.3,254.3) rotate(-90)' text-anchor='middle' font-size='11' fill='#000'>2000</text>
<path d='M53.6,419.7H407.4' stroke='#383838' stroke-width='1.1' fill='none'/><path d='M53.6,419.7V424.4' stroke='#383838' stroke-width='1.1'/><text x='53.6' y='435.9' text-anchor='middle' font-size='11'>0</text><path d='M104.14,419.7V424.4' stroke='#383838' stroke-width='1.1'/><text x='104.14' y='435.9' text-anchor='middle' font-size='11'>20</text><path d='M154.69,419.7V424.4' stroke='#383838' stroke-width='1.1'/><text x='154.69' y='435.9' text-anchor='middle' font-size='11'>40</text><path d='M205.23,419.7V424.4' stroke='#383838' stroke-width='1.1'/><text x='205.23' y='435.9' text-anchor='middle' font-size='11'>60</text><path d='M255.77,419.7V424.4' stroke='#383838' stroke-width='1.1'/><text x='255.77' y='435.9' text-anchor='middle' font-size='11'>80</text><path d='M306.31,419.7V424.4' stroke='#383838' stroke-width='1.1'/><text x='306.31' y='435.9' text-anchor='middle' font-size='11'>100</text><path d='M356.86,419.7V424.4' stroke='#383838' stroke-width='1.1'/><text x='356.86' y='435.9' text-anchor='middle' font-size='11'>120</text><path d='M407.4,419.7V424.4' stroke='#383838' stroke-width='1.1'/><text x='407.4' y='435.9' text-anchor='middle' font-size='11'>140</text>
<text x='230.6' y='453.7' text-anchor='middle' font-size='11'>Year</text>
<text transform='translate(9.4,333.9) rotate(-90)' text-anchor='middle' font-size='11.15'>Cumulative net N<tspan dy='2.23' font-size='7.8'>2</tspan><tspan dy='-2.23'>O emissions (Tg N)</tspan></text>
<text x='40.1' y='242.6' font-size='11' font-weight='bold'>b</text>
<path d='M421.6,413.4V277.5' stroke='#bdbdbd' stroke-width='1.1' fill='none'/><path d='M421.6,413.4H426.3' stroke='#bdbdbd' stroke-width='1'/><text transform='translate(438.2,413.4) rotate(-90)' text-anchor='middle' font-size='11' fill='#bdbdbd'>0</text><path d='M421.6,379.42H426.3' stroke='#bdbdbd' stroke-width='1'/><text transform='translate(438.2,379.42) rotate(-90)' text-anchor='middle' font-size='11' fill='#bdbdbd'>50</text><path d='M421.6,345.45H426.3' stroke='#bdbdbd' stroke-width='1'/><text transform='translate(438.2,345.45) rotate(-90)' text-anchor='middle' font-size='11' fill='#bdbdbd'>100</text><path d='M421.6,311.48H426.3' stroke='#bdbdbd' stroke-width='1'/><text transform='translate(438.2,311.48) rotate(-90)' text-anchor='middle' font-size='11' fill='#bdbdbd'>150</text><path d='M421.6,277.5H426.3' stroke='#bdbdbd' stroke-width='1'/><text transform='translate(438.2,277.5) rotate(-90)' text-anchor='middle' font-size='11' fill='#bdbdbd'>200</text>
<text transform='translate(453.5,333.8) rotate(-90)' text-anchor='middle' font-size='11.3' fill='#bdbdbd'>(Pg C equivalent)</text>
<text x='521.6' y='15.5' font-size='11' font-weight='bold'>c</text>
<path d='M603.5,44.8V388.4' stroke='#c8c8c8' stroke-width='1' stroke-dasharray='2.75 2.75'/>
<rect x='538.8' y='95.4' width='15.3' height='292.7' fill='#A2CA5C'/>
<rect x='558.1' y='95.4' width='15' height='59.7' fill='#FF4500'/>
<rect x='577' y='155.1' width='15' height='233' fill='#BEBEBE'/>
<rect x='614.4' y='372.6' width='15.5' height='15.5' fill='#A2CA5C'/>
<rect x='633.2' y='372.6' width='15.7' height='3.8' fill='#FF4500'/>
<rect x='652.5' y='376.4' width='15.3' height='11.7' fill='#BEBEBE'/>
<path d='M521.5,388.4H685' stroke='#383838' stroke-width='1.1'/>
<path d='M538.6,95.4H573.1' stroke='#2a2a2a' stroke-width='1.2'/>
<path d='M557.4,155.1H592.1' stroke='#2a2a2a' stroke-width='1.2'/>
<path d='M614.4,372.6H648.9' stroke='#2a2a2a' stroke-width='1.2'/>
<path d='M633.0,376.4H667.8' stroke='#2a2a2a' stroke-width='1.2'/>
<path d='M546.5,50.9V133.4' stroke='#222' stroke-width='1'/>
<path d='M565.5,124.9V185.5' stroke='#222' stroke-width='1'/>
<path d='M622.4,315.2V404.7' stroke='#222' stroke-width='1'/>
<path d='M521.5,388.4V44.8' stroke='#383838' stroke-width='1.1' fill='none'/><path d='M516.9,388.4H521.5' stroke='#383838' stroke-width='1.1' stroke-linecap='square'/><text transform='translate(510.9,388.4) rotate(-90)' text-anchor='middle' font-size='11' fill='#000'>0</text><path d='M516.9,302.5H521.5' stroke='#383838' stroke-width='1.1' stroke-linecap='square'/><text transform='translate(510.9,302.5) rotate(-90)' text-anchor='middle' font-size='11' fill='#000'>10</text><path d='M516.9,216.6H521.5' stroke='#383838' stroke-width='1.1' stroke-linecap='square'/><text transform='translate(510.9,216.6) rotate(-90)' text-anchor='middle' font-size='11' fill='#000'>20</text><path d='M516.9,130.7H521.5' stroke='#383838' stroke-width='1.1' stroke-linecap='square'/><text transform='translate(510.9,130.7) rotate(-90)' text-anchor='middle' font-size='11' fill='#000'>30</text><path d='M516.9,44.8H521.5' stroke='#383838' stroke-width='1.1' stroke-linecap='square'/><text transform='translate(510.9,44.8) rotate(-90)' text-anchor='middle' font-size='11' fill='#000'>40</text>
<text x='565.2' y='48.9' text-anchor='middle' font-size='11'>Land</text>
<text x='641.1' y='49.2' text-anchor='middle' font-size='11'>Ocean</text>
<text transform='translate(482.2,237.2) rotate(-90)' text-anchor='middle' font-size='11.2'>Cumulative net CO<tspan dy='2.24' font-size='7.84'>2</tspan><tspan dy='-2.24'> uptake or N<tspan dy='2.24' font-size='7.84'>2</tspan><tspan dy='-2.24'>O emissions driven by N deposition</tspan></tspan></text>
<text transform='translate(500.2,238.9) rotate(-90)' text-anchor='middle' font-size='11.4'>(Pg C equivalent)</text>
<text transform='translate(548.7,409.8) rotate(-90)' text-anchor='end' font-size='7.25'>CO<tspan dy='1.45' font-size='4.93'>2</tspan><tspan dy='-1.45'></tspan></text>
<text transform='translate(567.8,409.8) rotate(-90)' text-anchor='end' font-size='7.25'>N<tspan dy='1.45' font-size='4.93'>2</tspan><tspan dy='-1.45'>O</tspan></text>
<text transform='translate(586.7,409.8) rotate(-90)' text-anchor='end' font-size='7.25'>CO<tspan dy='1.45' font-size='4.93'>2</tspan><tspan dy='-1.45'> – N<tspan dy='1.45' font-size='4.93'>2</tspan><tspan dy='-1.45'>O</tspan></tspan></text>
<text transform='translate(624.4,409.8) rotate(-90)' text-anchor='end' font-size='7.25'>CO<tspan dy='1.45' font-size='4.93'>2</tspan><tspan dy='-1.45'></tspan></text>
<text transform='translate(643.2,409.8) rotate(-90)' text-anchor='end' font-size='7.25'>N<tspan dy='1.45' font-size='4.93'>2</tspan><tspan dy='-1.45'>O</tspan></text>
<text transform='translate(662.4,409.8) rotate(-90)' text-anchor='end' font-size='7.25'>CO<tspan dy='1.45' font-size='4.93'>2</tspan><tspan dy='-1.45'> – N<tspan dy='1.45' font-size='4.93'>2</tspan><tspan dy='-1.45'>O</tspan></tspan></text>
</svg></body></html>
